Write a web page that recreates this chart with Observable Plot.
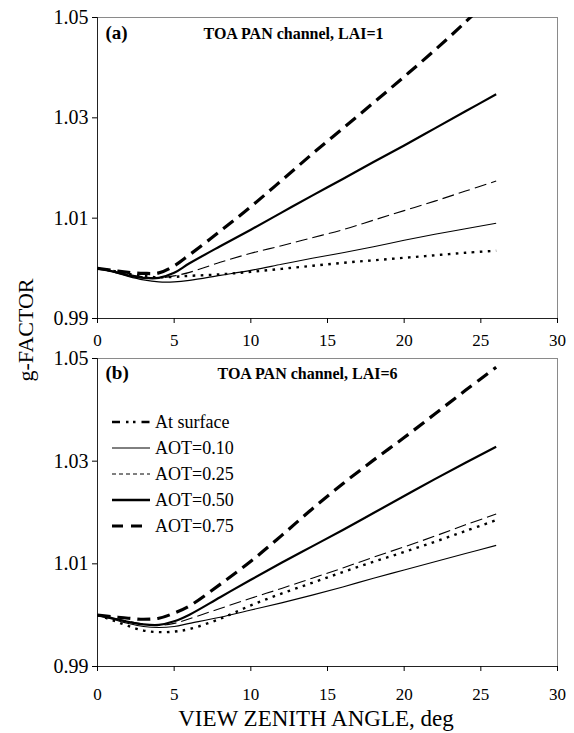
<!DOCTYPE html>
<html><head><meta charset="utf-8">
<script src="https://cdn.jsdelivr.net/npm/d3@7"></script>
<script src="https://cdn.jsdelivr.net/npm/@observablehq/plot@0.6"></script>
<style>
body{margin:0;background:#fff;}
#fig{position:relative;width:574px;height:733px;font-family:"Liberation Serif","DejaVu Serif",serif;background:#fff;overflow:hidden;}
#fig > svg, #fig > div{position:absolute;left:0;}
#fig text{font-family:"Liberation Serif","DejaVu Serif",serif !important;}
</style></head><body><div id="fig"></div>
<script>
// ---- data ----
const angles = [0,1,2,3,4,5,6,8,10,12,14,16,18,20,22,24,26];
const seriesNames = ["At surface","AOT=0.10","AOT=0.25","AOT=0.50","AOT=0.75"];
const xTicks = [0,5,10,15,20,25,30];
const yTicks = [0.99,1.01,1.03,1.05];
const panelLabels = ["(a)","(b)"];
const panelTitles = ["TOA PAN channel, LAI=1","TOA PAN channel, LAI=6"];

// panel (a) LAI=1
const a_surface = [1.000,0.9995,0.9989,0.9985,0.9982,0.9983,0.9985,0.9988,0.9993,0.9999,1.0005,1.0011,1.0016,1.0021,1.0026,1.0031,1.0035];
const a_aot010  = [1.000,0.9993,0.9984,0.9977,0.9973,0.9973,0.9976,0.9986,0.9996,1.0008,1.0020,1.0031,1.0043,1.0056,1.0068,1.0079,1.0090];
const a_aot025  = [1.000,0.9994,0.9988,0.9983,0.9981,0.9985,0.9992,1.0012,1.0030,1.0045,1.0061,1.0077,1.0096,1.0115,1.0134,1.0154,1.0174];
const a_aot050  = [1.000,0.9994,0.9986,0.9981,0.9981,0.9991,1.0010,1.0044,1.0077,1.0111,1.0145,1.0178,1.0212,1.0245,1.0279,1.0313,1.0347];
const a_aot075  = [1.000,0.9996,0.9992,0.9990,0.9991,1.0005,1.0027,1.0074,1.0123,1.0175,1.0228,1.0279,1.0330,1.0382,1.0435,1.0491,1.0550];

// panel (b) LAI=6
const b_surface = [1.000,0.9990,0.9979,0.9970,0.9967,0.9968,0.9973,0.9993,1.0019,1.0042,1.0063,1.0084,1.0104,1.0123,1.0143,1.0164,1.0185];
const b_aot010  = [1.000,0.9992,0.9984,0.9978,0.9976,0.9978,0.9984,0.9996,1.0010,1.0024,1.0039,1.0055,1.0072,1.0088,1.0104,1.0120,1.0136];
const b_aot025  = [1.000,0.9994,0.9988,0.9983,0.9980,0.9984,0.9993,1.0013,1.0033,1.0052,1.0072,1.0092,1.0113,1.0133,1.0154,1.0176,1.0197];
const b_aot050  = [1.000,0.9994,0.9987,0.9982,0.9981,0.9988,1.0001,1.0035,1.0069,1.0102,1.0134,1.0166,1.0199,1.0232,1.0265,1.0297,1.0328];
const b_aot075  = [1.000,0.9997,0.9994,0.9992,0.9994,1.0004,1.0018,1.0060,1.0105,1.0155,1.0207,1.0256,1.0302,1.0346,1.0392,1.0438,1.0483];

// ---- styles ----
const SERIF = '"Liberation Serif", "DejaVu Serif", serif';
const lineStyles = {
  "At surface": {strokeWidth: 2.4, strokeDasharray: "2.6,5.4"},
  "AOT=0.10":   {strokeWidth: 1.1},
  "AOT=0.25":   {strokeWidth: 1.1, strokeDasharray: "12,5"},
  "AOT=0.50":   {strokeWidth: 2.2},
  "AOT=0.75":   {strokeWidth: 3.2, strokeDasharray: "13,7"}
};
const legendStyles = {
  "At surface": {w: 2.4, dash: "8,6,2.5,4.5,2.5,6"},
  "AOT=0.10":   {w: 1.0, dash: null},
  "AOT=0.25":   {w: 1.0, dash: "4,3"},
  "AOT=0.50":   {w: 2.5, dash: null},
  "AOT=0.75":   {w: 3.0, dash: "11,8"}
};

function rows(seriesArrays) {
  const out = [];
  seriesNames.forEach((name, i) => {
    seriesArrays[i].forEach((g, j) => out.push({angle: angles[j], g, series: name}));
  });
  return out;
}
const panels = [
  {data: rows([a_surface,a_aot010,a_aot025,a_aot050,a_aot075]), top: 0, height: 350, mt: 17, mb: 32, pad: 10, ldx: 8, ldy: 8, tdx: 106, tdy: 10},
  {data: rows([b_surface,b_aot010,b_aot025,b_aot050,b_aot075]), top: 340, height: 366, mt: 18, mb: 40, pad: 16, ldx: 8, ldy: 7, tdx: 120, tdy: 9}
];

const fig = document.getElementById("fig");
panels.forEach((p, k) => {
  const marks = [
    Plot.frame({stroke: "#8a8a8a", strokeWidth: 1}),
    Plot.ruleX([0], {stroke: "#222", strokeWidth: 1}),
    Plot.ruleY([0.99], {stroke: "#222", strokeWidth: 1.2}),
    Plot.axisX({ticks: xTicks, tickSize: 5, tickPadding: p.pad, fontSize: 17, fontFamily: SERIF, label: null}),
    Plot.axisY({ticks: yTicks, tickSize: 5, tickPadding: 4, fontSize: 20, fontFamily: SERIF, label: null, tickFormat: d => d.toFixed(2)}),
    ...seriesNames.map(name => Plot.line(p.data.filter(d => d.series === name), {
      x: "angle", y: "g", stroke: "black", curve: "catmull-rom", clip: true,
      strokeLinecap: "butt", strokeLinejoin: "round", ...lineStyles[name]
    })),
    Plot.text([panelLabels[k]], {frameAnchor: "top-left", dx: p.ldx, dy: p.ldy, textAnchor: "start", lineAnchor: "top", fontSize: 19, fontWeight: "bold", fontFamily: SERIF, fill: "black"}),
    Plot.text([panelTitles[k]], {frameAnchor: "top-left", dx: p.tdx, dy: p.tdy, textAnchor: "start", lineAnchor: "top", fontSize: 16, fontWeight: "bold", fontFamily: SERIF, fill: "black"})
  ];
  const svg = Plot.plot({
    width: 574, height: p.height,
    marginLeft: 97, marginRight: 17, marginTop: p.mt, marginBottom: p.mb,
    style: {fontFamily: SERIF, background: "transparent", color: "black", overflow: "visible"},
    x: {domain: [0, 30]},
    y: {domain: [0.99, 1.05]},
    marks
  });
  svg.style.top = p.top + "px";
  svg.querySelectorAll("g[aria-label$='tick label']").forEach(g => {
    g.setAttribute("font-family", SERIF);
    g.setAttribute("font-variant", "normal");
  });
  fig.appendChild(svg);
});

// overlay: axis titles and legend
const NS = "http://www.w3.org/2000/svg";
const ov = document.createElementNS(NS, "svg");
ov.setAttribute("width", 574); ov.setAttribute("height", 733);
ov.style.top = "0px";
ov.style.fontFamily = SERIF;
function txt(s, attrs) {
  const t = document.createElementNS(NS, "text");
  for (const k in attrs) t.setAttribute(k, attrs[k]);
  t.textContent = s; ov.appendChild(t); return t;
}
txt("g-FACTOR", {transform: "translate(33,330) rotate(-90)", "text-anchor": "middle", "font-size": 22, fill: "black"});
txt("VIEW ZENITH ANGLE, deg", {x: 316, y: 726, "text-anchor": "middle", "font-size": 23, fill: "black"});
const legY = [422, 448, 474, 500, 526];
seriesNames.forEach((name, i) => {
  const st = legendStyles[name];
  const l = document.createElementNS(NS, "line");
  l.setAttribute("x1", 112); l.setAttribute("x2", 150);
  l.setAttribute("y1", legY[i]); l.setAttribute("y2", legY[i]);
  l.setAttribute("stroke", "black"); l.setAttribute("stroke-width", st.w);
  if (st.dash) l.setAttribute("stroke-dasharray", st.dash);
  ov.appendChild(l);
  txt(name, {x: 155, y: legY[i] + 6, "font-size": 18, fill: "black"});
});
fig.appendChild(ov);
</script></body></html>
